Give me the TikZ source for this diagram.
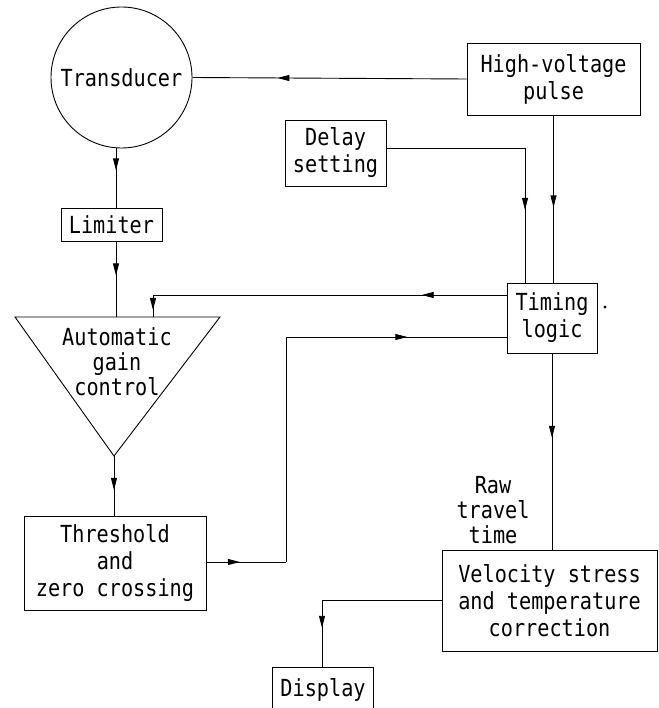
\documentclass[tikz,border=0pt]{standalone}
\usepackage{fontspec}
\setmainfont[FakeStretch=0.86]{DejaVu Sans Mono}
\usetikzlibrary{decorations.markings,arrows.meta}
\tikzset{
  wire/.style={line width=0.9pt},
  box/.style={draw,line width=0.9pt,inner sep=0pt,align=center},
  txt/.style={align=center,inner sep=0pt,font=\fontsize{23.5}{25}\selectfont},
  arr/.style={wire,postaction={decorate},decoration={markings,mark=at position #1 with {\arrow{Triangle[length=12pt,width=6pt]}}}},
}
\begin{document}
\begin{tikzpicture}[x=1pt,y=-1pt,font=\fontsize{23.5}{27}\selectfont]
\useasboundingbox (0,0) rectangle (658,708);
% nodes
\node[draw,circle,line width=0.9pt,minimum size=141pt,inner sep=0pt] (trans) at (121.5,77.5) {Transducer};
\node[box,minimum width=173pt,minimum height=72pt] (hv) at (553.5,79) {High-voltage\\pulse};
\node[box,minimum width=101pt,minimum height=66pt] (delay) at (335.5,153) {Delay\\setting};
\node[box,minimum width=90pt,minimum height=70pt] (timing) at (552,318) {Timing\\logic};
\node[circle,fill,inner sep=1.1pt] (dot) at (605,307) {};
\node[box,minimum width=101pt,minimum height=33pt] (lim) at (111.5,224.5) {Limiter};
\coordinate (agcTL) at (15,317);
\coordinate (agcTR) at (220,317);
\coordinate (agcB) at (114,456);
\draw[wire,line join=miter] (agcTL) -- (agcTR) -- (agcB) -- cycle;
\node[txt] (agc) at (117,362) {Automatic\\gain\\control};
\node[box,minimum width=182pt,minimum height=94pt] (thr) at (115,563) {Threshold\\and\\zero crossing};
\node[box,minimum width=215pt,minimum height=101pt] (vel) at (549.5,600.5) {Velocity stress\\and temperature\\correction};
\node[txt] (raw) at (493,510) {Raw\\travel\\time};
\node[minimum width=100pt,minimum height=44pt,inner sep=0pt] (disp) at (323,690) {Display};
\draw[wire] (disp.south west) |- (disp.north east) -- (disp.south east);
% helper coordinates
\coordinate (colA) at (116,0);
\coordinate (colB) at (153,0);
\coordinate (d1) at (525,148);
\coordinate (t1) at (286,562);
\coordinate (t2) at (286,337);
\coordinate (v1) at (322,600);
% connectors
\draw[arr=0.69] (hv.west) -- (trans.east);
\draw[wire] ([yshift=5pt]delay.east) -- (d1);
\draw[arr=0.46] (d1) -- (d1 |- timing.north);
\draw[arr=0.55] (hv.south) -- (hv.south |- timing.north);
\draw[arr=0.24] ([yshift=23pt]timing.west) -- ([yshift=23pt]timing.west -| colB);
\draw[arr=0.68] ([yshift=23pt]timing.west -| colB) -- (agcTL -| colB);
\draw[arr=0.37] (trans.south -| colA) -- (lim.north -| colA);
\draw[arr=0.45] (lim.south -| colA) -- (agcTL -| colA);
\draw[arr=0.57] (agcB) -- (agcB |- thr.north);
\draw[arr=0.42] (thr.east |- t1) -- (t1);
\draw[wire] (t1) -- (t2);
\draw[arr=0.55] (t2) -- (t2 -| timing.west);
\draw[arr=0.43] (timing.south) -- (timing.south |- vel.north);
\draw[wire] (vel.west |- v1) -- (v1);
\draw[arr=0.41] (v1) -- (disp.north -| v1);
\end{tikzpicture}
\end{document}
